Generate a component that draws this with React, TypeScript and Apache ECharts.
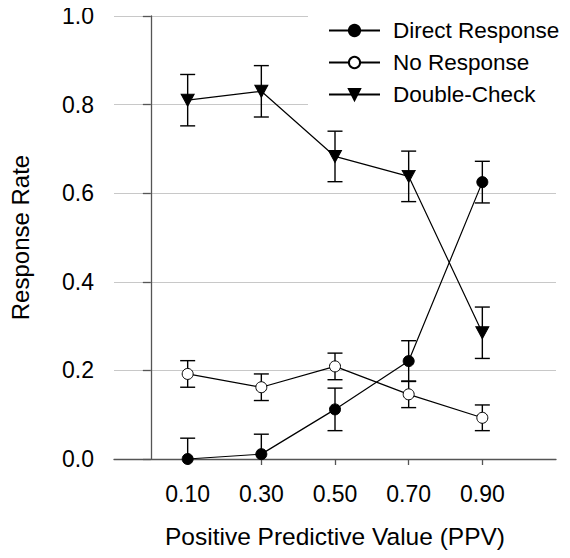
import React, { useEffect, useRef } from "react";
import * as echarts from "echarts";

const ppv = [0.1, 0.3, 0.5, 0.7, 0.9];
const tickValues = [0.1, 0.3, 0.5, 0.7, 0.9];

const directMean = [0.0, 0.011, 0.112, 0.221, 0.625];
const directErr = [0.047, 0.045, 0.048, 0.046, 0.047];

const noRespMean = [0.192, 0.162, 0.209, 0.146, 0.093];
const noRespErr = [0.03, 0.03, 0.03, 0.03, 0.029];

const dcMean = [0.81, 0.83, 0.683, 0.638, 0.285];
const dcErr = [0.058, 0.058, 0.057, 0.057, 0.058];

const FONT = 'Arial, "Liberation Sans", sans-serif';

function pts(mean: number[]) {
  return ppv.map((x, i) => [x, mean[i]]);
}
function bars(mean: number[], err: number[]) {
  return ppv.map((x, i) => [x, mean[i] - err[i], mean[i] + err[i]]);
}

function errorSeries(name: string, mean: number[], err: number[]) {
  return {
    type: "custom",
    name: name + "-err",
    clip: true,
    z: 1,
    silent: true,
    data: bars(mean, err),
    renderItem: (params: any, api: any) => {
      const x = api.value(0);
      const lo = api.value(1);
      const hi = api.value(2);
      const pHi = api.coord([x, hi]);
      const pLo = api.coord([x, lo]);
      const hw = 7.5;
      const st = { stroke: "#000", lineWidth: 1.4 };
      return {
        type: "group",
        children: [
          { type: "line", shape: { x1: pHi[0], y1: pHi[1], x2: pLo[0], y2: pLo[1] }, style: st },
          { type: "line", shape: { x1: pHi[0] - hw, y1: pHi[1], x2: pHi[0] + hw, y2: pHi[1] }, style: st },
          { type: "line", shape: { x1: pLo[0] - hw, y1: pLo[1], x2: pLo[0] + hw, y2: pLo[1] }, style: st },
        ],
      };
    },
  };
}

export default function App() {
  const ref = useRef<HTMLDivElement>(null);
  useEffect(() => {
    if (!ref.current) return;
    const chart = echarts.init(ref.current, undefined, { renderer: "svg" });
    const lineStyle = { color: "#000", width: 1.2 };
    chart.setOption({
      animation: false,
      backgroundColor: "#fff",
      textStyle: { fontFamily: FONT },
      grid: { left: 114, right: 14, top: 16, bottom: 99 },
      legend: {
        orient: "vertical",
        left: 308,
        top: 8,
        padding: [11, 4, 12, 20],
        backgroundColor: "#fff",
        itemWidth: 51,
        itemHeight: 14,
        itemGap: 9,
        data: ["Direct Response", "No Response", "Double-Check"],
        textStyle: { fontSize: 22.5, color: "#000", fontFamily: FONT, padding: [0, 0, 0, 8] },
        z: 10,
      },
      xAxis: {
        type: "value",
        min: -0.1,
        max: 1.1,
        name: "Positive Predictive Value (PPV)",
        nameLocation: "middle",
        nameGap: 65,
        nameTextStyle: { fontSize: 24.5, color: "#000", fontFamily: FONT },
        axisLine: { lineStyle: { color: "#555", width: 1.3 } },
        axisTick: { customValues: tickValues, length: 6, lineStyle: { color: "#555", width: 1.3 } },
        axisLabel: {
          customValues: tickValues,
          fontSize: 23,
          color: "#000",
          margin: 23,
          fontFamily: FONT,
          formatter: (v: number) => v.toFixed(2),
        },
        splitLine: { show: false },
      },
      yAxis: {
        type: "value",
        min: 0,
        max: 1,
        interval: 0.2,
        name: "Response Rate",
        nameLocation: "middle",
        nameGap: 82,
        nameTextStyle: { fontSize: 24, color: "#000", fontFamily: FONT },
        axisLine: { show: true, lineStyle: { color: "#555", width: 1.3 } },
        axisTick: { show: true, length: 8, lineStyle: { color: "#555", width: 1.3 } },
        axisLabel: {
          fontSize: 23,
          color: "#000",
          margin: 20,
          fontFamily: FONT,
          formatter: (v: number) => v.toFixed(1),
        },
        splitLine: { show: true, lineStyle: { color: "#c8c8c8", width: 1 } },
      },
      series: [
        errorSeries("Direct Response", directMean, directErr),
        errorSeries("No Response", noRespMean, noRespErr),
        errorSeries("Double-Check", dcMean, dcErr),
        {
          type: "line",
          name: "Direct Response",
          data: pts(directMean),
          symbol: "circle",
          symbolSize: 11,
          z: 3,
          lineStyle,
          itemStyle: { color: "#000", borderColor: "#000", borderWidth: 1 },
        },
        {
          type: "line",
          name: "No Response",
          data: pts(noRespMean),
          symbol: "circle",
          symbolSize: 11,
          z: 3,
          lineStyle,
          itemStyle: { color: "#fff", borderColor: "#000", borderWidth: 1 },
        },
        {
          type: "line",
          name: "Double-Check",
          data: pts(dcMean),
          symbol: "triangle",
          symbolRotate: 180,
          symbolSize: [13, 12],
          z: 3,
          lineStyle,
          itemStyle: { color: "#000", borderColor: "#000", borderWidth: 1 },
        },
      ],
    });
    return () => chart.dispose();
  }, []);
  return <div ref={ref} style={{ width: 570, height: 558, margin: -8 }} />;
}
